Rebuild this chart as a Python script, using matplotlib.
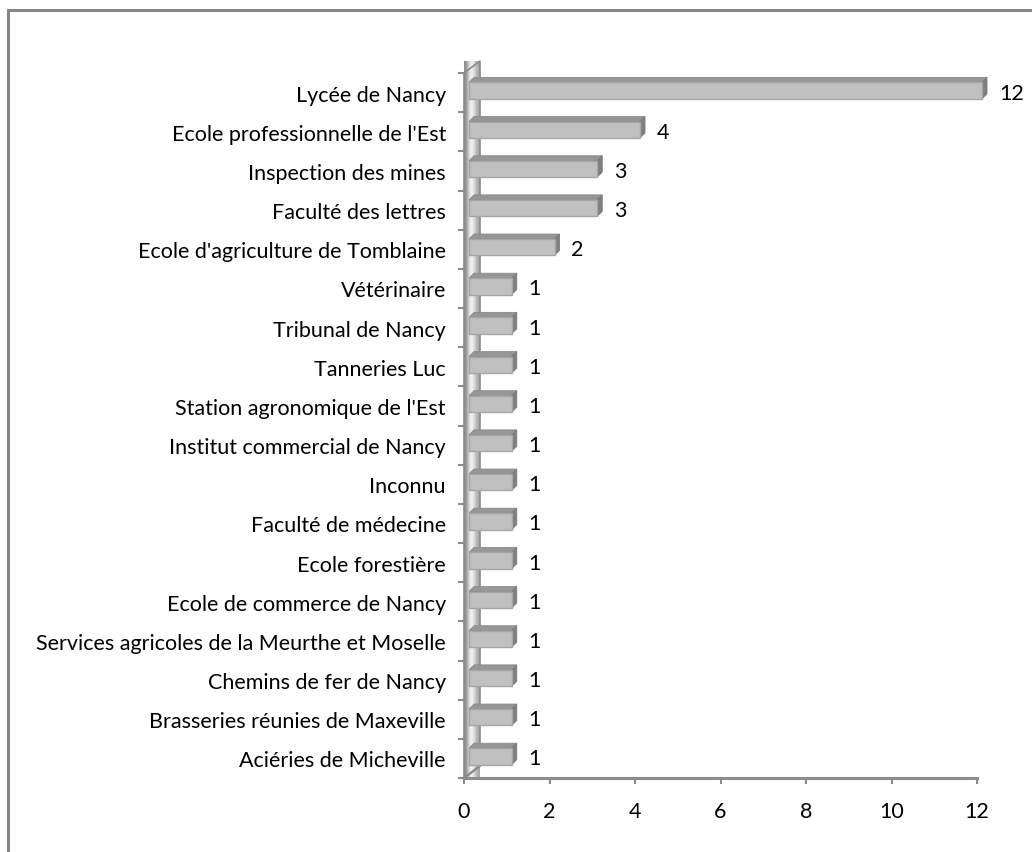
import numpy as np
import matplotlib
matplotlib.use("Agg")
import matplotlib.pyplot as plt
from matplotlib.patches import Polygon, Rectangle

plt.rcParams['font.family'] = ['Lato', 'DejaVu Sans']

# donnees (du haut vers le bas)
etablissements = ["Lycée de Nancy", "Ecole professionnelle de l'Est", "Inspection des mines",
                  "Faculté des lettres", "Ecole d'agriculture de Tomblaine", "Vétérinaire",
                  "Tribunal de Nancy", "Tanneries Luc", "Station agronomique de l'Est",
                  "Institut commercial de Nancy", "Inconnu", "Faculté de médecine",
                  "Ecole forestière", "Ecole de commerce de Nancy",
                  "Services agricoles de la Meurthe et Moselle", "Chemins de fer de Nancy",
                  "Brasseries réunies de Maxeville", "Aciéries de Micheville"]
effectifs = [12, 4, 3, 3, 2, 1, 1, 1, 1, 1, 1, 1, 1, 1, 1, 1, 1, 1]
xticks = [0, 2, 4, 6, 8, 10, 12]

FS = 15.5
W, H = 1032, 853
fig = plt.figure(figsize=(W / 100, H / 100), dpi=100)

# cadre du graphique
fig.patches.append(Rectangle((8 / W, -0.05), 1.2, (H - 11) / H + 0.05, transform=fig.transFigure,
                             fill=False, edgecolor='#868686', linewidth=2.2))

x0, x1, ytop, ybot = 464, 977, 74, 779
ax = fig.add_axes([x0 / W, (H - ybot) / H, (x1 - x0) / W, (ybot - ytop) / H])
n = len(etablissements)
ax.set_xlim(0, 12)
ax.set_ylim(-0.5, n - 0.5)
px = 12 / (x1 - x0)
py = n / (ybot - ytop)

# axe horizontal
for s in ['top', 'right', 'left']:
    ax.spines[s].set_visible(False)
ax.spines['bottom'].set_color('#8c8c8c')
ax.spines['bottom'].set_linewidth(2.2)
ax.set_xticks(xticks)
ax.tick_params(axis='x', colors='#8c8c8c', length=4, width=1.5, labelsize=FS, labelcolor='black', pad=12.5)

ypos = np.arange(n)[::-1]
ax.set_yticks(ypos)
ax.set_yticklabels(etablissements)
ax.set_yticks(np.arange(n + 1) - 0.5, minor=True)
ax.tick_params(axis='y', which='major', length=0, labelsize=FS, pad=13)
ax.tick_params(axis='y', which='minor', length=4, width=1.5, color='#8c8c8c')

# mur 3D a gauche
wall = [(0, -0.5), (0, n - 0.5), (16 * px, n - 0.5 + 12 * py), (16 * px, -0.5 + 12 * py)]
poly = Polygon(wall, closed=True, facecolor='none', edgecolor='#8a8a8a', linewidth=1.2, clip_on=False, zorder=2)
ax.add_patch(poly)
grad = np.array([[0.55, 0.62, 0.78, 0.92, 0.95, 0.88, 0.78, 0.7, 0.65]])
im = ax.imshow(grad, cmap='gray', vmin=0, vmax=1, aspect='auto', interpolation='bicubic',
               extent=(0, 16 * px, -0.5, n - 0.5 + 12 * py), zorder=1, clip_on=False)
im.set_clip_path(poly)

# barres 3D
ox, oy = 5 * px, 2 * py
dx, dy = 5 * px, 5 * py
h = 8.2 * py
for y, v in zip(ypos, effectifs):
    yb, yt = y + oy - h, y + oy + h
    ax.add_patch(Polygon([(ox, yt), (ox + v, yt), (ox + v + dx, yt + dy), (ox + dx, yt + dy)],
                         facecolor='#969696', edgecolor='#8a8a8a', linewidth=0.6, zorder=3, clip_on=False))
    ax.add_patch(Polygon([(ox + v, yb), (ox + v, yt), (ox + v + dx, yt + dy), (ox + v + dx, yb + dy)],
                         facecolor='#7f7f7f', edgecolor='#7a7a7a', linewidth=0.6, zorder=3, clip_on=False))
    ax.add_patch(Rectangle((ox, yb), v, yt - yb, facecolor='#c0c0c0', edgecolor='#a6a6a6',
                           linewidth=1, zorder=4, clip_on=False))
    ax.annotate(str(v), (v, y), xytext=(22 * 0.72, 0), textcoords='offset points',
                va='center', ha='left', fontsize=FS, annotation_clip=False)

# sol 3D
ax.plot([0, 16 * px], [-0.5, -0.5 + 12 * py], color='#8a8a8a', linewidth=1.5, clip_on=False, zorder=2)

fig.savefig("out.png", dpi=100)
